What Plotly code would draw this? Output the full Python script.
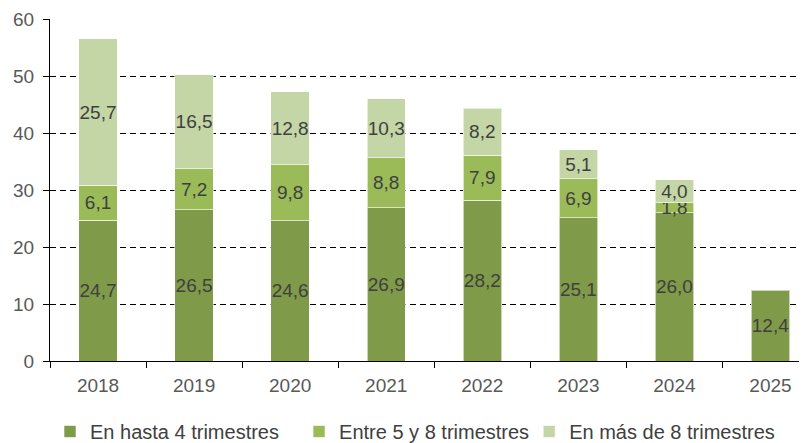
import plotly.graph_objects as go

years = ["2018", "2019", "2020", "2021", "2022", "2023", "2024", "2025"]
hasta4 = [24.7, 26.5, 24.6, 26.9, 28.2, 25.1, 26.0, 12.4]
entre5y8 = [6.1, 7.2, 9.8, 8.8, 7.9, 6.9, 1.8, None]
mas8 = [25.7, 16.5, 12.8, 10.3, 8.2, 5.1, 4.0, None]

series = [
    ("En hasta 4 trimestres", hasta4, "#7F9A48", "legend"),
    ("Entre 5 y 8 trimestres", entre5y8, "#9BBB59", "legend2"),
    ("En más de 8 trimestres", mas8, "#C4D6A6", "legend3"),
]

FONT = "Arial, Liberation Sans"

fig = go.Figure()
for name, vals, color, leg in series:
    fig.add_trace(go.Bar(
        x=years, y=vals, name=name, legend=leg,
        marker=dict(color=color, line=dict(color="rgba(255,255,255,0.6)", width=1)),
        width=0.4,
        texttemplate="%{y:.1f}", textposition="inside", insidetextanchor="middle",
        textangle=0, constraintext="none",
        textfont=dict(family=FONT, size=19, color="#404040"),
    ))

# the page body has an 8px margin, so the figure is shifted 8px right/down
leg_style = dict(orientation="h", xanchor="left", y=-0.2076, yanchor="middle",
                 font=dict(family=FONT, size=20, color="#404040"),
                 bgcolor="rgba(0,0,0,0)")

fig.update_layout(
    barmode="stack",
    separators=",.",
    width=799, height=443,
    margin=dict(l=42, r=0, t=11, b=90),
    plot_bgcolor="white", paper_bgcolor="white",
    font=dict(family=FONT, size=19, color="#595959"),
    showlegend=True,
    legend=dict(x=0.0, **leg_style),
    legend2=dict(x=0.329, **leg_style),
    legend3=dict(x=0.633, **leg_style),
    xaxis=dict(range=[-0.5, 7.38], showline=True, linecolor="black", linewidth=1,
               ticks="outside", tickson="boundaries", ticklen=6, tickcolor="black",
               ticklabelstandoff=7,
               showgrid=False, tickfont=dict(family=FONT, size=19, color="#595959")),
    yaxis=dict(range=[0, 60], dtick=10, showline=True, linecolor="black", linewidth=1,
               ticks="outside", ticklen=6, tickcolor="black", ticklabelstandoff=5,
               gridcolor="black", griddash="6px,4px", gridwidth=1, zeroline=False,
               tickfont=dict(family=FONT, size=19, color="#595959")),
)

fig.write_html("out.html")
